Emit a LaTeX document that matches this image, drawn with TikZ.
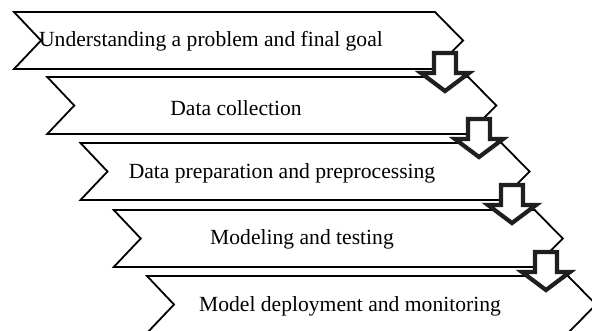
\documentclass[tikz,border=0pt]{standalone}
\usepackage{fontspec}
\setmainfont{Liberation Serif}
\begin{document}
\begin{tikzpicture}[x=1pt,y=-1pt,
  chev/.style={draw=black, line width=1.8pt, fill=white, line join=miter},
  downarrow/.style={draw=black!88, line width=4.2pt, fill=white, line join=miter},
  lbl/.style={font=\fontsize{21.6}{24}\selectfont, inner sep=0pt, anchor=center}]
\useasboundingbox (0,0) rectangle (592,330);
\clip (0,0) rectangle (592,330);
% chevrons
\foreach \L/\T in {14/12, 47.25/77, 80.5/143, 113.75/210, 147/276}{
  \draw[chev] (\L,\T) -- ++(421,0) -- ++(28,28.5) -- ++(-28,28.5) -- ++(-421,0) -- ++(27,-28.5) -- cycle;
}
% labels
\node[lbl] (s1) at (211,41) {Understanding a problem and final goal};
\node[lbl] (s2) at (236,108) {Data collection};
\node[lbl] (s3) at (282,173) {Data preparation and preprocessing};
\node[lbl] (s4) at (302,239) {Modeling and testing};
\node[lbl] (s5) at (350,306) {Model deployment and monitoring};
% down arrows
\foreach \cx/\y in {445/53, 479/119, 512/185, 546/252}{
  \draw[downarrow] (\cx-11,\y) -- (\cx+11,\y) -- (\cx+11,\y+20) -- (\cx+24,\y+20) -- (\cx,\y+38) -- (\cx-24,\y+20) -- (\cx-11,\y+20) -- cycle;
}
\end{tikzpicture}
\end{document}
